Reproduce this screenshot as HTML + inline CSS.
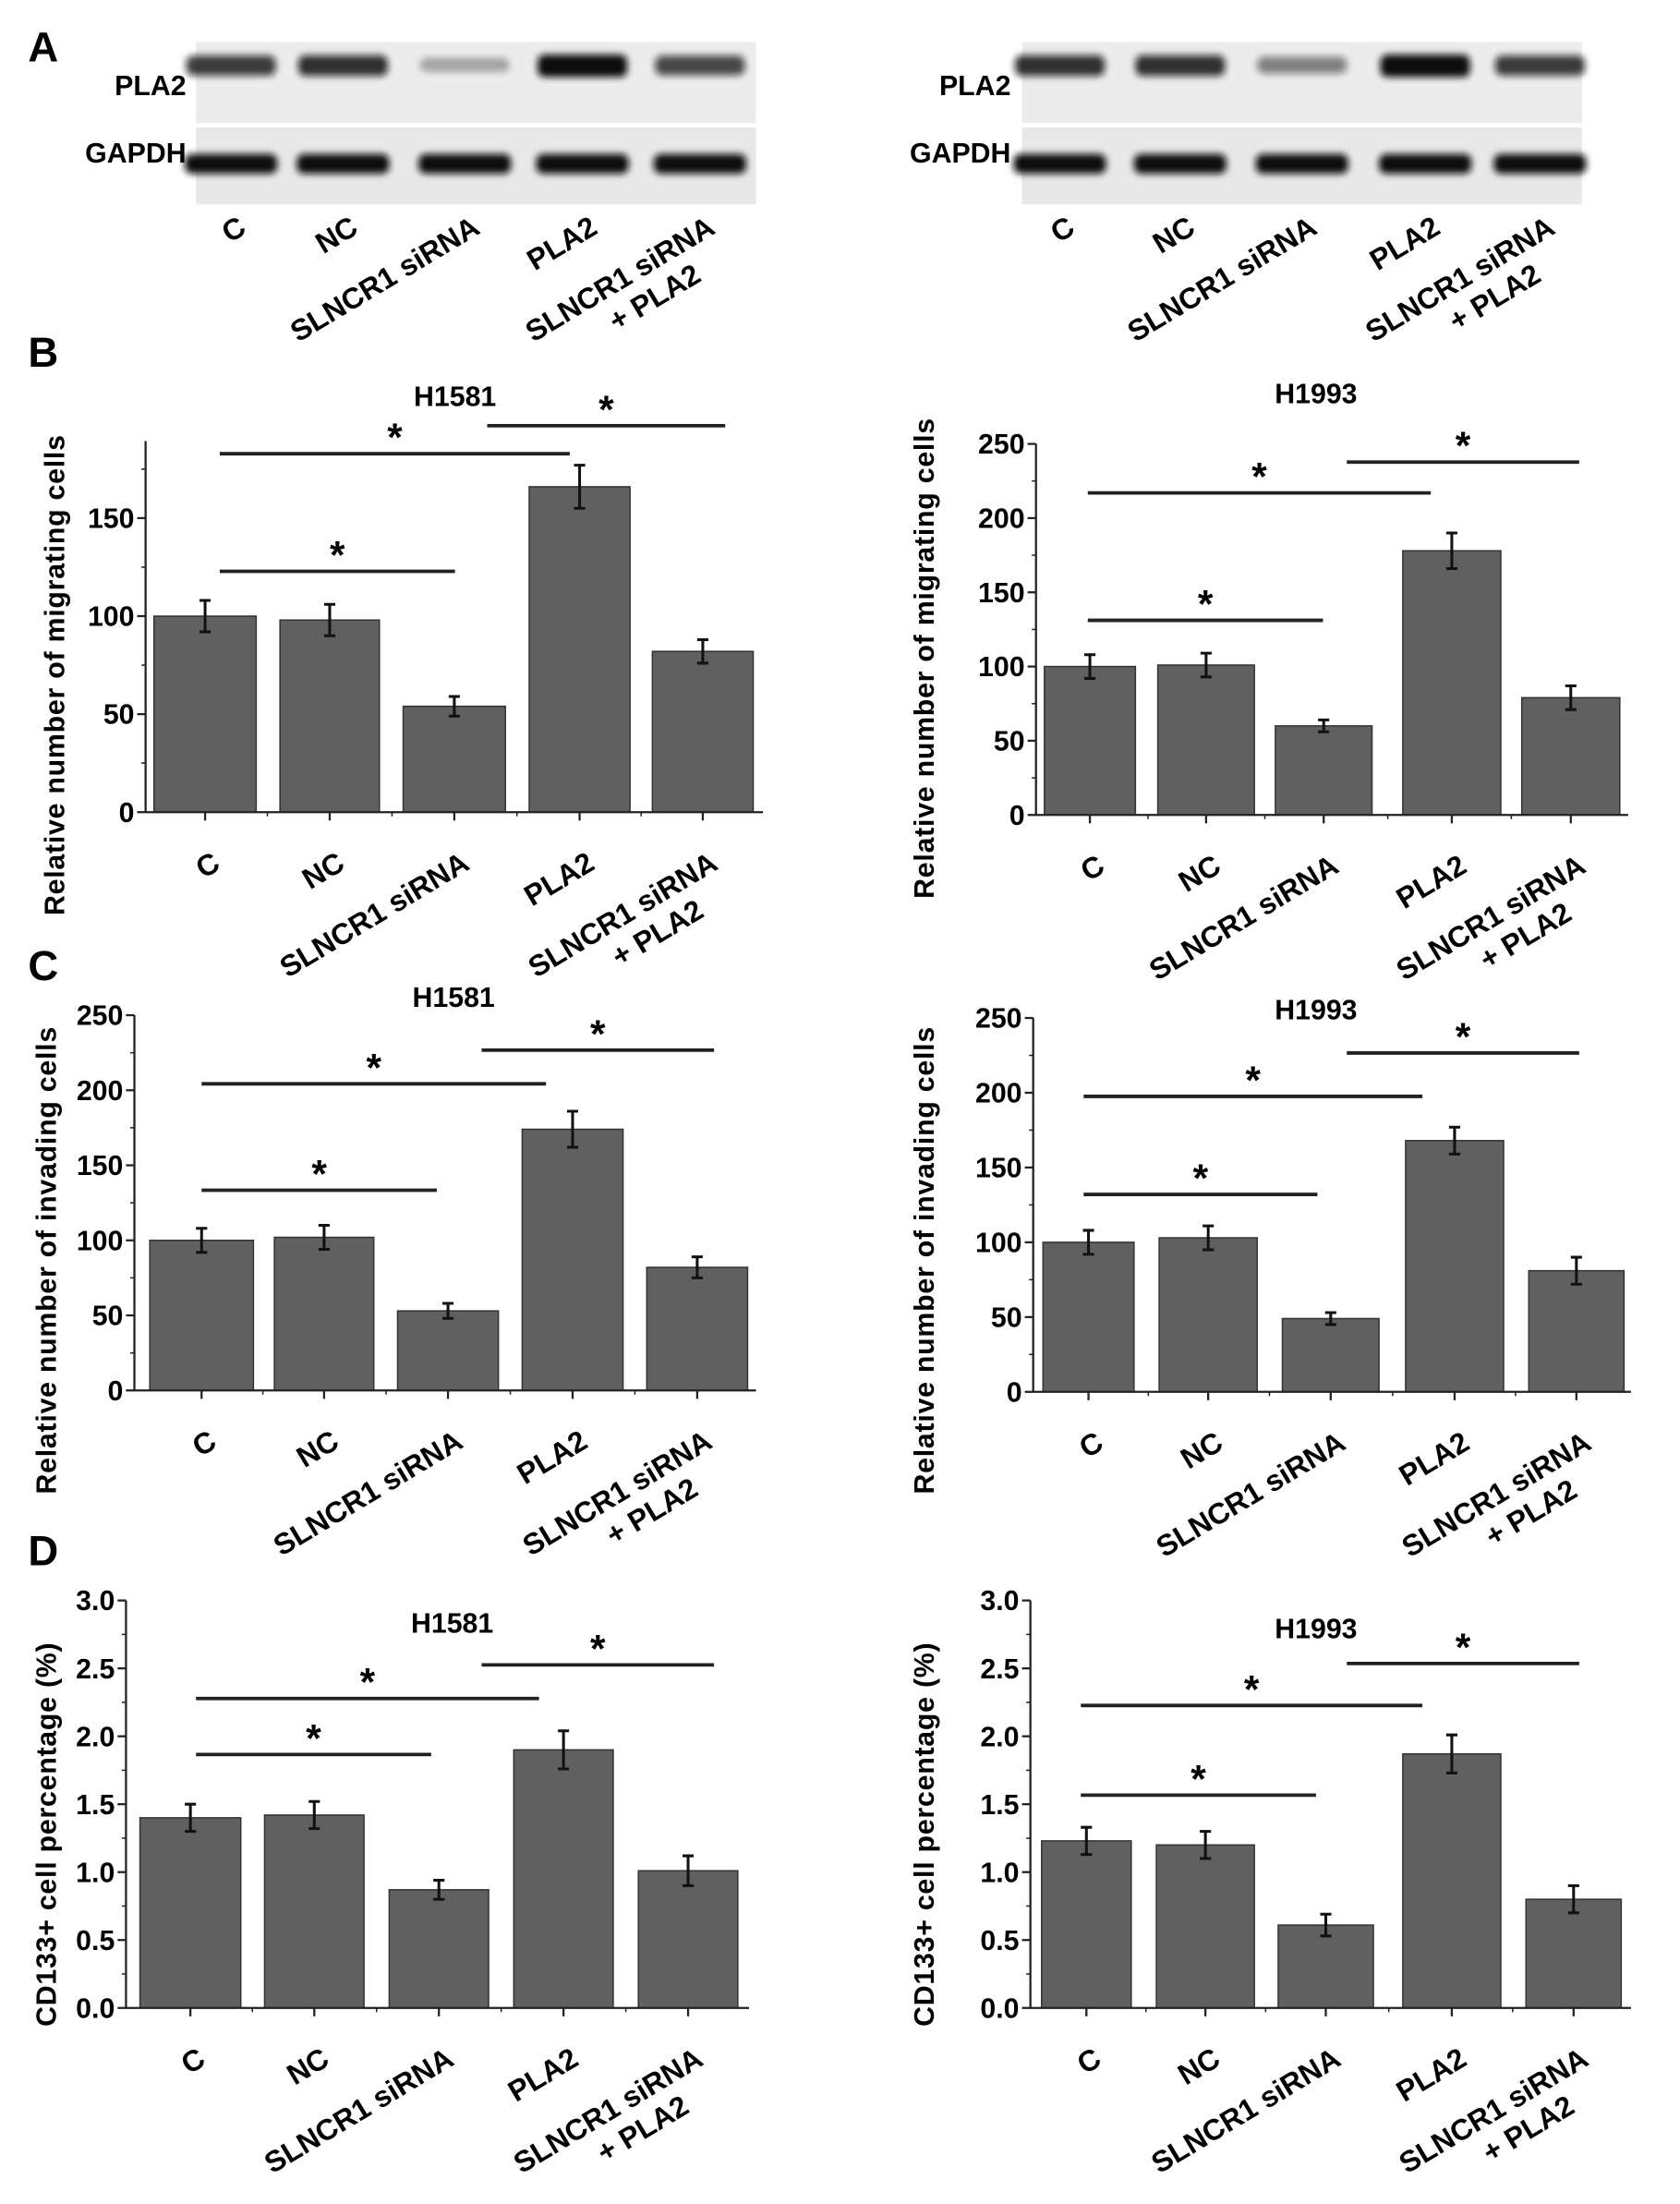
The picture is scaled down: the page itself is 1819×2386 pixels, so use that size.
<!DOCTYPE html>
<html><head><meta charset="utf-8"><style>
html,body{margin:0;padding:0;background:#fff}
svg{display:block;font-family:"Liberation Sans",Arial,sans-serif;font-weight:bold}
</style></head><body>
<svg id="fig" width="1819" height="2386" viewBox="0 0 1200 1574" xmlns="http://www.w3.org/2000/svg">
<defs>
<filter id="blur" x="-20%" y="-50%" width="140%" height="200%"><feGaussianBlur stdDeviation="2.5"/></filter>
</defs>
<text x="20" y="44" font-size="30">A</text>
<text x="20" y="262" font-size="30">B</text>
<text x="20" y="700" font-size="30">C</text>
<text x="20" y="1118" font-size="30">D</text>
<g id="gels"></g>
<g id="charts"></g>
</svg>
<script>
const categories = ["C","NC","SLNCR1 siRNA","PLA2","SLNCR1 siRNA|+ PLA2"];
const migH1581 = [100, 98, 54, 166, 82];
const migH1581Err = [8, 8, 5, 11, 6];
const migH1993 = [100, 101, 60, 178, 79];
const migH1993Err = [8, 8, 4, 12, 8];
const invH1581 = [100, 102, 53, 174, 82];
const invH1581Err = [8, 8, 5, 12, 7];
const invH1993 = [100, 103, 49, 168, 81];
const invH1993Err = [8, 8, 4, 9, 9];
const cdH1581 = [1.40, 1.42, 0.87, 1.90, 1.01];
const cdH1581Err = [0.10, 0.10, 0.07, 0.14, 0.11];
const cdH1993 = [1.23, 1.20, 0.61, 1.87, 0.80];
const cdH1993Err = [0.10, 0.10, 0.08, 0.14, 0.10];
const ticksB1 = [0, 50, 100, 150];
const ticks250 = [0, 50, 100, 150, 200, 250];
const ticks3 = [0, 0.5, 1.0, 1.5, 2.0, 2.5, 3.0];
const pla2Left = [0.8, 0.85, 0.3, 1.0, 0.75];
const pla2Right = [0.85, 0.85, 0.5, 1.0, 0.8];

const NS = "http://www.w3.org/2000/svg";
function mk(tag, attrs, parent){const e=document.createElementNS(NS,tag);for(const k in attrs)e.setAttribute(k,attrs[k]);parent.appendChild(e);return e;}

function xLabels(g, xs, baseY){
  categories.forEach((c,i)=>{
    const parts=c.split("|");
    parts.forEach((p,j)=>{
      const x=xs[i]+12 - j*10, y=baseY+12+j*34;
      const t=mk("text",{x:x,y:y,"font-size":21,"text-anchor":"end",transform:`rotate(-31 ${x} ${y})`},g);
      t.textContent=p;
      
      
    });
  });
}

const gels=document.getElementById('gels');
function gel(x0, lanes, pla, labX){
  const g=mk("g",{},gels);
  
  
  mk("rect",{x:x0,y:30,width:400,height:58,fill:"#ececec"},g);
  mk("rect",{x:x0,y:91,width:400,height:55,fill:"#e8e8e8"},g);
  lanes.forEach((lx,i)=>{
    const o=pla[i];
    mk("rect",{x:lx-32,y:42-o*3,width:64,height:8+o*8,rx:5,fill:"#111","fill-opacity":o,filter:"url(#blur)"},g);
    mk("rect",{x:lx-33,y:110,width:66,height:14,rx:5,fill:"#111",filter:"url(#blur)"},g);
  });
  let t=mk("text",{x:labX,y:68,"font-size":20,"text-anchor":"end"},g);t.textContent="PLA2";
  
  t=mk("text",{x:labX,y:116,"font-size":20,"text-anchor":"end"},g);t.textContent="GAPDH";
  
  xLabels(g, lanes, 154);
}
gel(140,[165,245,332,416,500],pla2Left,133);
gel(730,[757,843,930,1018,1100],pla2Right,722);

const chartsG=document.getElementById('charts');
function chart(cfg){
  const g=mk("g",{},chartsG);
  
  
  const yS=v=>cfg.y0-(v/cfg.max)*(cfg.y0-cfg.yTop);
  cfg.vals.forEach((v,i)=>{
    const [a,b]=cfg.bars[i];
    const r=mk("rect",{x:a,y:yS(v),width:b-a,height:cfg.y0-yS(v),fill:"#606060",stroke:"#333","stroke-width":1},g);
    
    
    const cx=(a+b)/2, e=cfg.err[i];
    const eb=mk("path",{d:`M${cx},${yS(v+e)}V${yS(v-e)}M${cx-4},${yS(v+e)}H${cx+4}M${cx-4},${yS(v-e)}H${cx+4}`,stroke:"#111","stroke-width":2,fill:"none"},g);
    
    
  });
  const ax=mk("path",{d:`M${cfg.ax},${cfg.axTop}V${cfg.y0}H${cfg.axEnd}`,stroke:"#222","stroke-width":1.5,fill:"none"},g);
  
  
  const step=cfg.ticks[1]-cfg.ticks[0];
  cfg.ticks.forEach(t=>{
    const y=yS(t);
    mk("line",{x1:cfg.ax-6,x2:cfg.ax,y1:y,y2:y,stroke:"#222","stroke-width":1.5},g);
    const mid=yS(t+step/2);
    if(mid>=cfg.axTop-1) mk("line",{x1:cfg.ax-3,x2:cfg.ax,y1:mid,y2:mid,stroke:"#222","stroke-width":1},g);
    const tl=mk("text",{x:cfg.ax-8,y:y+7,"font-size":20,"text-anchor":"end"},g);
    tl.textContent=cfg.dec?t.toFixed(1):t;
    
    
  });
  const xs=cfg.bars.map(b=>(b[0]+b[1])/2);
  xs.forEach((x,i)=>{
    mk("line",{x1:x,x2:x,y1:cfg.y0,y2:cfg.y0+6,stroke:"#222","stroke-width":1.5},g);
    if(i<xs.length-1){const m=(x+xs[i+1])/2;mk("line",{x1:m,x2:m,y1:cfg.y0,y2:cfg.y0+3,stroke:"#222","stroke-width":1},g);}
  });
  xLabels(g, xs, cfg.y0+28);
  const ttl=mk("text",{x:cfg.titleX,y:cfg.titleY,"font-size":20,"text-anchor":"middle"},g);
  ttl.textContent=cfg.title;
  
  
  const yl=mk("text",{x:0,y:0,"font-size":20,"text-anchor":"middle",transform:`translate(${cfg.ylX},${cfg.ylY}) rotate(-90)`,"letter-spacing":"0.5"},g);
  yl.textContent=cfg.ylabel;
  
  
  cfg.sig.forEach(s=>{
    const l=mk("line",{x1:s[1],x2:s[2],y1:s[0],y2:s[0],stroke:"#222","stroke-width":2.5},g);
    
    
    const st=mk("text",{x:(s[1]+s[2])/2,y:s[0]-2,"font-size":28,"text-anchor":"middle"},g);
    st.textContent="*";
    
    
  });
}
chart({name:"chart-b-h1581",vals:migH1581,err:migH1581Err,ticks:ticksB1,max:150,y0:580,yTop:370,ax:104,axTop:315,axEnd:545,
  bars:[[110,183],[200,271],[288,361],[378,450],[466,538]],title:"H1581",titleX:325,titleY:290,ylX:46,ylY:482,
  ylabel:"Relative number of migrating cells",sig:[[408,157,325],[324,157,407],[304,348,518]]});
chart({name:"chart-b-h1993",vals:migH1993,err:migH1993Err,ticks:ticks250,max:250,y0:582,yTop:317,ax:740,axTop:317,axEnd:1163,
  bars:[[746,811],[827,896],[911,980],[1002,1072],[1087,1157]],title:"H1993",titleX:940,titleY:288,ylX:667,ylY:470,
  ylabel:"Relative number of migrating cells",sig:[[443,777,945],[352,777,1022],[330,962,1128]]});
chart({name:"chart-c-h1581",vals:invH1581,err:invH1581Err,ticks:ticks250,max:250,y0:993,yTop:725,ax:96,axTop:725,axEnd:540,
  bars:[[107,181],[196,267],[284,356],[373,445],[462,534]],title:"H1581",titleX:324,titleY:719,ylX:40,ylY:900,
  ylabel:"Relative number of invading cells",sig:[[850,144,312],[774,144,390],[750,344,510]]});
chart({name:"chart-c-h1993",vals:invH1993,err:invH1993Err,ticks:ticks250,max:250,y0:994,yTop:727,ax:738,axTop:727,axEnd:1165,
  bars:[[745,810],[828,898],[916,985],[1004,1074],[1092,1160]],title:"H1993",titleX:940,titleY:728,ylX:667,ylY:900,
  ylabel:"Relative number of invading cells",sig:[[853,774,941],[783,774,1016],[752,962,1128]]});
chart({name:"chart-d-h1581",vals:cdH1581,err:cdH1581Err,ticks:ticks3,max:3,dec:true,y0:1434,yTop:1143,ax:90,axTop:1143,axEnd:535,
  bars:[[100,172],[189,260],[278,349],[367,438],[456,527]],title:"H1581",titleX:323,titleY:1166,ylX:40,ylY:1310,
  ylabel:"CD133+ cell percentage (%)",sig:[[1253,140,308],[1213,140,385],[1189,344,510]]});
chart({name:"chart-d-h1993",vals:cdH1993,err:cdH1993Err,ticks:ticks3,max:3,dec:true,y0:1434,yTop:1143,ax:736,axTop:1143,axEnd:1165,
  bars:[[744,808],[826,896],[913,981],[1002,1072],[1090,1158]],title:"H1993",titleX:940,titleY:1170,ylX:667,ylY:1310,
  ylabel:"CD133+ cell percentage (%)",sig:[[1282,772,940],[1218,772,1016],[1188,962,1128]]});
</script>
</body></html>
